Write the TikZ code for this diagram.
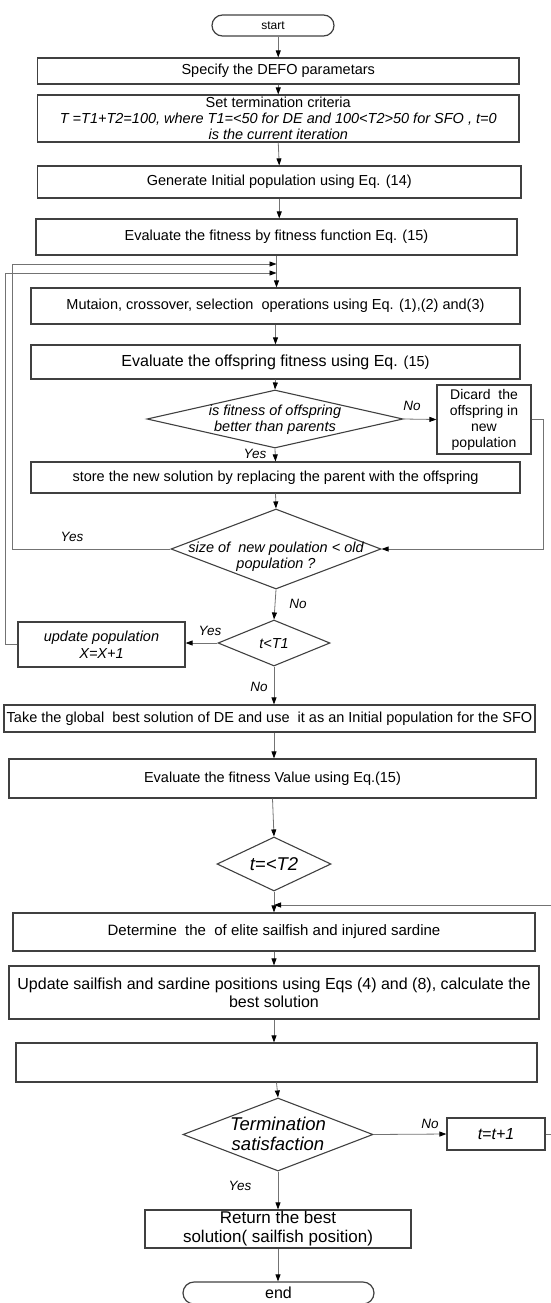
\documentclass[tikz,border=0pt]{standalone}
\usepackage{fontspec}
\setmainfont{Liberation Sans}
\usetikzlibrary{shapes.geometric,arrows.meta}

\begin{document}
\begin{tikzpicture}[x=1pt, y=-1pt,
  box/.style={draw=black!75, line width=1.2pt, inner sep=1pt, align=center, font=\fontsize{14.5}{16}\selectfont},
  term/.style={box, rounded corners=10.5pt},
  dia/.style={draw=black!75, line width=1.1pt, diamond, inner sep=0pt},
  dtext/.style={align=center, font=\fontsize{14.5}{16}\selectfont\itshape},
  lbl/.style={font=\fontsize{13.5}{15}\selectfont\itshape},
  arr/.style={draw=black!55, line width=0.8pt, -{Triangle[length=7pt,width=5pt,color=black]}}]
  \useasboundingbox (0,0) rectangle (550,1303);

  \node[term, minimum width=122pt, minimum height=21pt, font=\fontsize{12}{14}\selectfont] (st) at (273,25.5) {start};
  \node[box, minimum width=481.5pt, minimum height=26pt] (b1) at (278.25,71) {Specify the DEFO parametars};
  \node[box, minimum width=481.5pt, minimum height=47pt] (b2) at (278.25,118.5) {Set termination criteria\\\textit{T =T1+T2=100, where T1=<50 for DE and 100<T2>50 for SFO , t=0}\\\textit{is the current iteration}};
  \node[box, minimum width=483.5pt, minimum height=32pt] (b3) at (279.25,182) {Generate Initial population using Eq. (14)};
  \node[box, minimum width=481pt, minimum height=36pt] (b4) at (276.5,237) {Evaluate the fitness by fitness function Eq. (15)};
  \node[box, minimum width=489pt, minimum height=36pt] (b5) at (275.5,306) {Mutaion, crossover, selection\ \ operations using Eq. (1),(2) and(3)};
  \node[box, minimum width=489pt, minimum height=34pt, font=\fontsize{16}{18}\selectfont] (b6) at (275.5,362) {Evaluate the offspring fitness using Eq. {\fontsize{14.5}{16}\selectfont(15)}};
  \node[dia, minimum width=256pt, minimum height=58pt] (d1) at (275,419) {};
  \node[dtext] (d1t) at (275,420) {is fitness of offspring\\better than parents};
  \node[box, minimum width=94pt, minimum height=69pt, font=\fontsize{14}{16}\selectfont] (dis) at (484,419.5) {Dicard\ \ the\\offspring in\\new\\population};
  \node[box, minimum width=489pt, minimum height=31pt] (b7) at (275.5,477.5) {store the new solution by replacing the parent with the offspring};
  \node[dia, minimum width=210pt, minimum height=80pt] (d2) at (276,549) {};
  \node[dtext] (d2t) at (276,557) {size of\ \ new poulation < old\\population ?};
  \node[dia, minimum width=112pt, minimum height=46pt] (d3) at (274,643) {};
  \node[dtext] (d3t) at (274,644) {t<T1};
  \node[box, minimum width=167pt, minimum height=45pt, font=\fontsize{14.5}{17}\selectfont\itshape] (up) at (101.5,644.5) {update population\\X=X+1};
  \node[box, minimum width=531pt, minimum height=27pt] (b8) at (269.5,718.5) {Take the global\ \ best solution of DE and use\ \ it as an Initial population for the SFO};
  \node[box, minimum width=527pt, minimum height=39pt] (b9) at (272.5,778.5) {Evaluate the fitness Value using Eq.(15)};
  \node[dia, minimum width=114pt, minimum height=54pt] (d4) at (274,864) {};
  \node[dtext, font=\fontsize{18.5}{20}\selectfont\itshape] (d4t) at (274,864) {t=<T2};
  \node[box, minimum width=522pt, minimum height=38pt, font=\fontsize{15}{17}\selectfont] (b10) at (274,932) {Determine\ \ the\ \ of elite sailfish and injured sardine};
  \node[box, minimum width=530pt, minimum height=53pt, font=\fontsize{16}{18}\selectfont] (b11) at (274,992.5) {Update sailfish and sardine positions using Eqs (4) and (8), calculate the\\best solution};
  \node[box, minimum width=521pt, minimum height=39pt] (b12) at (276.5,1062.5) {};
  \node[dia, minimum width=190pt, minimum height=73pt] (d5) at (278,1134.5) {};
  \node[dtext, font=\fontsize{18.5}{20}\selectfont\itshape] (d5t) at (278,1134) {Termination\\satisfaction};
  \node[box, minimum width=98pt, minimum height=32pt, font=\fontsize{16}{18}\selectfont\itshape] (tt) at (496,1134) {t=t+1};
  \node[box, minimum width=266pt, minimum height=38pt, font=\fontsize{17}{19}\selectfont] (b13) at (278,1229) {Return the best\\solution( sailfish position)};
  \node[term, minimum width=191pt, minimum height=22pt, rounded corners=11pt, font=\fontsize{16}{18}\selectfont] (en) at (278.5,1293) {end};

  \coordinate (j1) at (276.5,264);
  \coordinate (j2) at (276.5,273);
  \coordinate (j3) at (274,905);

  \draw[arr] (st.south -| b1.north) -- (b1.north);
  \draw[arr] (b1.south) -- (b2.north);
  \draw[arr] (b2.south) -- (b3.north);
  \draw[arr] (b3.south) -- (b3.south |- b4.north);
  \draw[arr] (b4.south) -- (b4.south |- b5.north);
  \draw[arr] (b5.south) -- (b5.south |- b6.north);
  \draw[arr] (b6.south) -- (d1.north);
  \draw[arr] (d1.east) -- (dis.west);
  \draw[arr] (d1.south) -- (b7.north);
  \draw[arr] (dis.east) -- ++(12,0) |- (d2.east);
  \draw[arr] (b7.south) -- (d2.north);
  \draw[arr] (d2.west) -- ++(-158,0) |- (j1);
  \draw[arr] (d2.south) -- (d3.north);
  \draw[arr] (d3.west) -- (d3.west -| up.east);
  \draw[arr] (up.west) -- ++(-12,0) |- (j2);
  \draw[arr] (d3.south) -- (d3.south |- b8.north);
  \draw[arr] (b8.south -| d4.north) -- (b9.north -| d4.north);
  \draw[arr] (b9.south) -- (d4.north);
  \draw[arr] (d4.south) -- (d4.south |- b10.north);
  \draw[arr] (tt.east) -- ++(20,0) |- (j3);
  \draw[arr] (b10.south) -- (b10.south |- b11.north);
  \draw[arr] (b11.south) -- (b11.south |- b12.north);
  \draw[arr] (b12.south) -- (d5.north);
  \draw[arr] (d5.east) -- (tt.west);
  \draw[arr] (d5.south) -- (d5.south |- b13.north);
  \draw[arr] (b13.south) -- (b13.south |- en.north);

  \node[lbl] (l1) at (412,406) {No};
  \node[lbl] (l2) at (255,454) {Yes};
  \node[lbl] (l3) at (72,537) {Yes};
  \node[lbl] (l4) at (298,604) {No};
  \node[lbl] (l5) at (210,631) {Yes};
  \node[lbl] (l6) at (259,687) {No};
  \node[lbl] (l7) at (430,1124) {No};
  \node[lbl] (l8) at (240,1186) {Yes};
\end{tikzpicture}
\end{document}
